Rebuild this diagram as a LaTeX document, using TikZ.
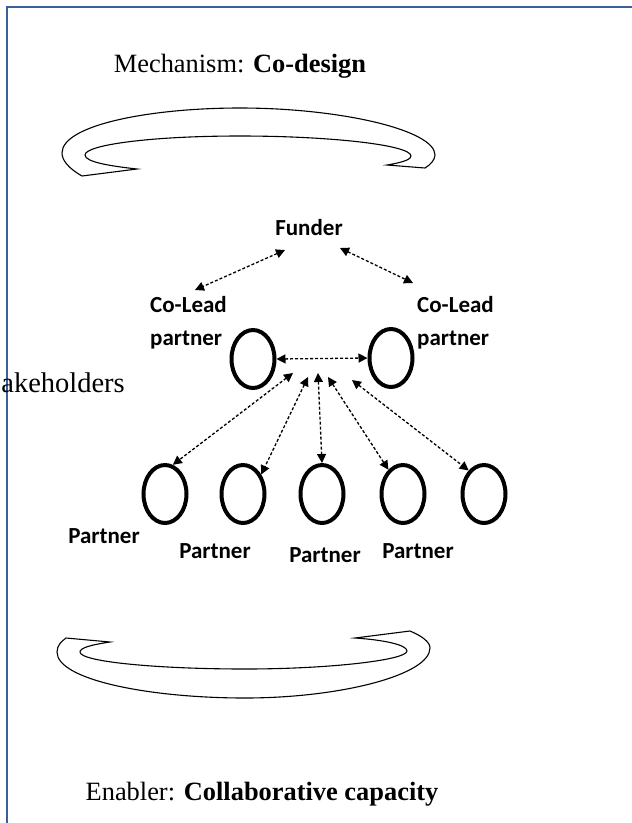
\documentclass[tikz,border=0pt]{standalone}
\usepackage{fontspec}
\setmainfont{Liberation Serif}
\newfontfamily\calib{Carlito}
\usetikzlibrary{arrows.meta,shapes.geometric}
\definecolor{frameblue}{RGB}{59,94,158}
\begin{document}
\begin{tikzpicture}[x=1pt,y=-1pt,
  title/.style={font=\fontsize{26.4}{30}\selectfont, inner sep=0pt, anchor=base},
  lbl/.style={font=\calib\bfseries\fontsize{23}{33}\selectfont, inner sep=0pt, align=left},
  ring/.style={ellipse, draw, line width=4pt, minimum width=43pt, minimum height=58pt, inner sep=0pt},
  link/.style={line width=1.3pt, dash pattern=on 3pt off 2pt,
    {Triangle[length=9pt,width=9pt]}-{Triangle[length=9pt,width=9pt]}},
  ribbon/.style={draw, line width=1.1pt, fill=white, line join=miter},
  frameline/.style={draw=frameblue, line width=2.5pt}]
\useasboundingbox (0,0) rectangle (632,823);
% frame
\draw[frameline] (5.75,7) -- (632,7);
\draw[frameline] (7,5.75) -- (7,823);
% titles
\node[title] (mech) at (240,72) {Mechanism: \textbf{Co-design}};
\node[title] (enab) at (262,800) {Enabler: \textbf{Collaborative capacity}};
\node[title, anchor=base east, font=\fontsize{28.5}{32}\selectfont] (stake) at (125,392) {akeholders};
% top ribbon
\path[ribbon] (82,176) .. controls (68,168) and (62,160) .. (62,153)
  .. controls (62,125) and (150,108) .. (240,108)
  .. controls (340,108) and (435,130) .. (435,155)
  .. controls (435,160) and (430,165) .. (425,168)
  -- (387,165)
  .. controls (405,162) and (411,159) .. (411,156)
  .. controls (411,145) and (330,136) .. (240,136)
  .. controls (150,136) and (85,145) .. (85,155)
  .. controls (85,162) and (110,166) .. (137,169)
  -- cycle;
% bottom ribbon
\path[ribbon] (66,638) -- (110,642)
  .. controls (90,645) and (80,648) .. (80,652)
  .. controls (80,662) and (160,669) .. (245,669)
  .. controls (330,669) and (407,660) .. (407,651)
  .. controls (407,645) and (385,640) .. (355,638)
  -- (410,631)
  .. controls (422,636) and (430,642) .. (430,648)
  .. controls (430,675) and (340,698) .. (245,698)
  .. controls (150,698) and (57,680) .. (57,652)
  .. controls (57,645) and (62,641) .. cycle;
% labels
\node[lbl, anchor=base] (funder) at (309,235) {Funder};
\node[lbl, anchor=base west] (cl1) at (150,345) {Co-Lead\\partner};
\node[lbl, anchor=base west] (cl2) at (417,345) {Co-Lead\\partner};
\node[lbl, anchor=base] (l1) at (104,543) {Partner};
\node[lbl, anchor=base] (l2) at (215,558) {Partner};
\node[lbl, anchor=base] (l3) at (325,562) {Partner};
\node[lbl, anchor=base] (l4) at (418,558) {Partner};
% rings
\node[ring] (c1) at (253,359) {};
\node[ring] (c2) at (391,358) {};
\node[ring] (p1) at (165,494) {};
\node[ring] (p2) at (243,494) {};
\node[ring] (p3) at (322,494) {};
\node[ring] (p4) at (403,494) {};
\node[ring] (p5) at (484,494) {};
% free ends
\coordinate (fl1) at (285,250);
\coordinate (fl2) at (195,290);
\coordinate (fr1) at (340,248);
\coordinate (fr2) at (413,283);
\coordinate (h1) at (293,373);
\coordinate (h2) at (308,377);
\coordinate (h3) at (318,373);
\coordinate (h4) at (328,377);
\coordinate (h5) at (352,380);
% connectors
\draw[link] (fl1) -- (fl2);
\draw[link] (fr1) -- (fr2);
\draw[link] (c1.east) -- (c2.west);
\draw[link] (h1) -- (p1.75);
\draw[link] (h2) -- (p2.47);
\draw[link] (h3) -- (p3.north);
\draw[link] (h4) -- (p4.121);
\draw[link] (h5) -- (p5.123);
\end{tikzpicture}
\end{document}
